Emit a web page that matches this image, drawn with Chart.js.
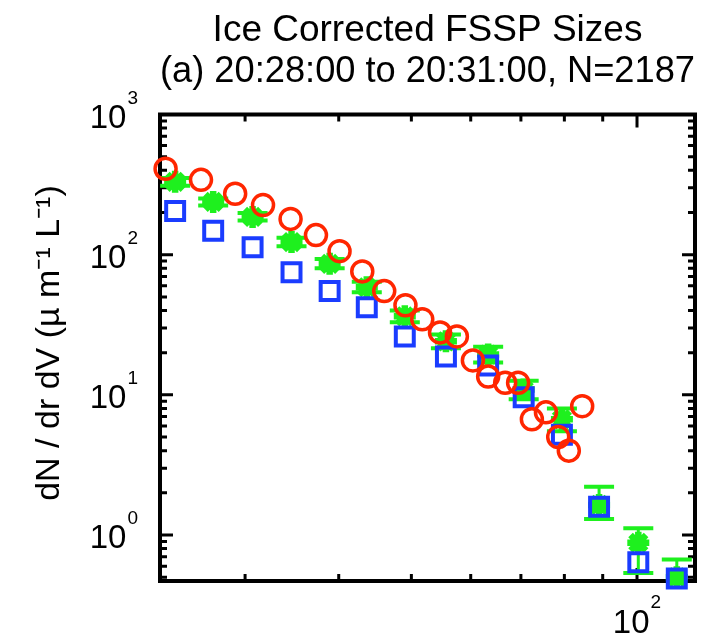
<!DOCTYPE html>
<html>
<head>
<meta charset="utf-8">
<script src="https://cdn.jsdelivr.net/npm/chart.js@4.4.1/dist/chart.umd.min.js"></script>
<style>
  html, body { margin: 0; padding: 0; background: #fff; }
</style>
</head>
<body>
<canvas id="fssp" width="703" height="644"></canvas>
<script>
// red circles: uncorrected sizes
const circleSize = [23.5, 26.2, 29.1, 31.7, 34.5, 37.3, 40.1, 43.0, 46.0, 49.1, 51.7,
                    54.6, 57.5, 60.4, 63.3, 66.7, 69.4, 72.4, 75.6, 78.5, 81.1, 84.5];
const circleConc = [410, 342, 272, 226, 180, 138, 106, 76, 55, 43.6, 34.6,
                    27.9, 26.1, 17.6, 13.5, 12.2, 12.2, 6.7, 7.5, 5.0, 4.0, 8.3];

// corrected bins: green stars (with error bars) and blue squares
const binSize = [24.2, 27.2, 30.7, 34.6, 38.9, 43.6, 49.0, 55.6, 63.3, 70.6, 79.4, 89.0, 100.4, 113];
const starConc = [331, 238, 186, 123, 86, 58.6, 36.3, 24.1, 19.4, 10.9, 6.7, 1.64, 0.88, 0.5];
const starLow  = [310, 224, 175, 115, 80, 54, 33, 21.5, 17, 9.3, 5.5, 1.30, 0.535, 0.3];
const starHigh = [352, 252, 198, 132, 93, 64, 40, 27, 22, 12.6, 8.0, 2.21, 1.12, 0.67];
const squareConc = [205, 148, 113, 75, 55, 42.2, 26.1, 18.8, 16.2, 9.6, 5.2, 1.59, 0.64, 0.49];

// axis ticks
const tickBase = '10';
const yTicks = [1, 10, 100, 1000];
const yTickExp = ['0', '1', '2', '3'];
const xTicks = [100];
const xTickExp = ['2'];
const xMinorTicks = [30, 40, 50, 60, 70, 80, 90];

const RED = '#ff2600';
const BLUE = '#1a3cff';
const GREEN = '#1ef01e';
const FONT = '"Liberation Sans", Arial, sans-serif';

const pts = (xs, ys) => xs.map((x, i) => ({ x, y: ys[i] }));

const frame = {
  id: 'frame',
  beforeDatasetsDraw(chart) {
    const { ctx, chartArea: a, scales: { x, y } } = chart;
    ctx.save();
    ctx.strokeStyle = '#000';
    ctx.lineWidth = 3;
    ctx.beginPath();
    const xTick = (v, len) => {
      const px = x.getPixelForValue(v);
      ctx.moveTo(px, a.bottom); ctx.lineTo(px, a.bottom - len);
      ctx.moveTo(px, a.top); ctx.lineTo(px, a.top + len);
    };
    const yTick = (v, len) => {
      const py = y.getPixelForValue(v);
      ctx.moveTo(a.left, py); ctx.lineTo(a.left + len, py);
      ctx.moveTo(a.right, py); ctx.lineTo(a.right - len, py);
    };
    xMinorTicks.forEach(v => xTick(v, 7));
    xTicks.forEach(v => xTick(v, 13));
    for (let d = 0.1; d < 1000; d *= 10) {
      for (let m = 2; m <= 9; m++) {
        const v = m * d;
        if (v >= y.min && v <= y.max) yTick(v, 7);
      }
    }
    yTicks.forEach(v => yTick(v, 13));
    ctx.stroke();

    ctx.lineWidth = 4;
    ctx.strokeRect(a.left, a.top, a.right - a.left, a.bottom - a.top);

    // error bars on the green points
    ctx.beginPath();
    ctx.rect(a.left, a.top, a.right - a.left, a.bottom - a.top);
    ctx.clip();
    ctx.strokeStyle = GREEN;
    binSize.forEach((s, i) => {
      const px = x.getPixelForValue(s);
      const lo = y.getPixelForValue(starLow[i]);
      const hi = y.getPixelForValue(starHigh[i]);
      ctx.lineWidth = 3;
      ctx.beginPath();
      ctx.moveTo(px, lo); ctx.lineTo(px, hi);
      ctx.stroke();
      ctx.lineWidth = 4;
      ctx.beginPath();
      ctx.moveTo(px - 15, lo); ctx.lineTo(px + 15, lo);
      ctx.moveTo(px - 15, hi); ctx.lineTo(px + 15, hi);
      ctx.stroke();
    });
    ctx.restore();
  },
  afterDraw(chart) {
    const { ctx, chartArea: a, scales: { x, y } } = chart;
    ctx.save();
    ctx.fillStyle = '#000';
    ctx.textBaseline = 'alphabetic';
    yTicks.forEach((v, i) => {
      const py = y.getPixelForValue(v);
      const right = a.left - 22;
      ctx.font = '19px ' + FONT;
      const ew = ctx.measureText(yTickExp[i]).width;
      ctx.textAlign = 'right';
      ctx.fillText(yTickExp[i], right, py - 11);
      ctx.font = '33px ' + FONT;
      ctx.fillText(tickBase, right - ew - 1, py + 13);
    });
    xTicks.forEach((v, i) => {
      const px = x.getPixelForValue(v);
      ctx.font = '33px ' + FONT;
      const bw = ctx.measureText(tickBase).width;
      ctx.font = '19px ' + FONT;
      const ew = ctx.measureText(xTickExp[i]).width;
      const start = px - (bw + 1 + ew) / 2;
      ctx.textAlign = 'left';
      ctx.font = '33px ' + FONT;
      ctx.fillText(tickBase, start, a.bottom + 52);
      ctx.font = '19px ' + FONT;
      ctx.fillText(xTickExp[i], start + bw + 1, a.bottom + 27);
    });
    ctx.restore();
  }
};

Chart.defaults.font.family = FONT;
Chart.defaults.color = '#000';

new Chart(document.getElementById('fssp'), {
  type: 'scatter',
  data: {
    datasets: [
      {
        label: 'uncorrected',
        data: pts(circleSize, circleConc),
        pointStyle: 'circle',
        pointRadius: 10.5,
        borderWidth: 3.5,
        borderColor: RED,
        backgroundColor: 'rgba(0,0,0,0)',
        clip: false
      },
      {
        label: 'corrected',
        data: pts(binSize, squareConc),
        pointStyle: 'rect',
        pointRadius: 12.7,
        borderWidth: 4,
        borderColor: BLUE,
        backgroundColor: 'rgba(0,0,0,0)',
        clip: false
      },
      {
        label: 'mean',
        data: pts(binSize, starConc),
        pointStyle: 'star',
        pointRadius: 11,
        borderWidth: 6.5,
        borderColor: GREEN,
        backgroundColor: GREEN,
        clip: false
      }
    ]
  },
  options: {
    responsive: false,
    animation: false,
    events: [],
    layout: { autoPadding: false, padding: { left: 0, right: 8, top: 0, bottom: 0 } },
    plugins: {
      legend: { display: false },
      tooltip: { enabled: false },
      title: {
        display: true,
        fullSize: false,
        text: 'Ice Corrected FSSP Sizes',
        color: '#000',
        font: { size: 37, weight: 'normal', lineHeight: 1.0 },
        padding: { top: 12.5, bottom: 0 }
      },
      subtitle: {
        display: true,
        fullSize: false,
        text: '(a) 20:28:00 to 20:31:00, N=2187',
        color: '#000',
        font: { size: 36.5, weight: 'normal', lineHeight: 1.0 },
        padding: { top: 4, bottom: 24.5 }
      }
    },
    scales: {
      x: {
        type: 'logarithmic',
        min: 23.1,
        max: 119.5,
        grid: { display: false },
        border: { display: false },
        ticks: { display: false },
        afterFit: s => { s.height = 63; }
      },
      y: {
        type: 'logarithmic',
        min: 0.47,
        max: 1000,
        grid: { display: false },
        border: { display: false },
        ticks: { display: false },
        title: {
          display: true,
          text: ' dN / dr dV (\u00b5 m\u207b\u00b9 L\u207b\u00b9)',
          color: '#000',
          font: { size: 34, weight: 'normal', lineHeight: 1.2 },
          padding: { top: 28.8, bottom: 0 }
        },
        afterFit: s => { s.width = 160; }
      }
    }
  },
  plugins: [frame]
});
</script>
</body>
</html>
